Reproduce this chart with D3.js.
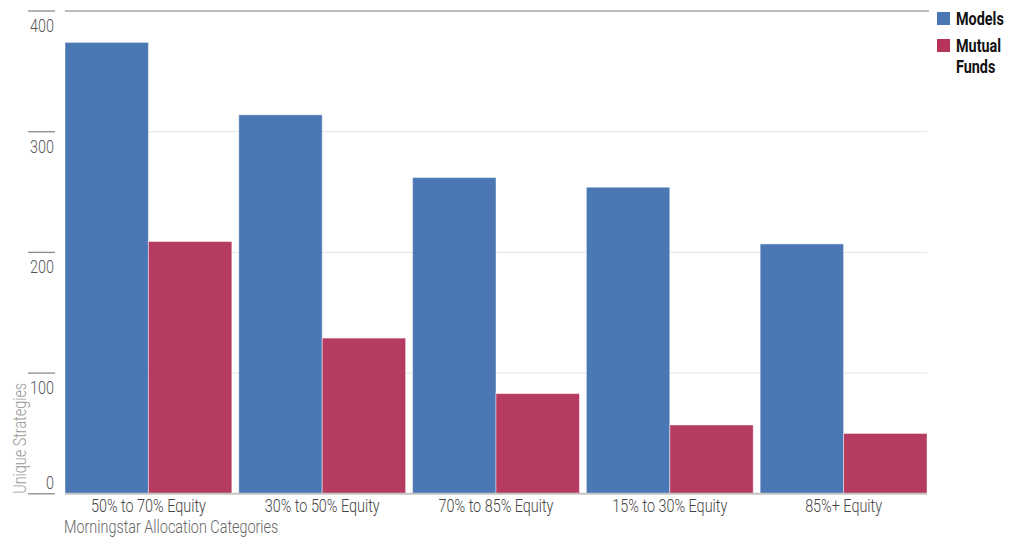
<!DOCTYPE html>
<html>
<head>
<meta charset="utf-8">
<script src="https://cdn.jsdelivr.net/npm/d3@7"></script>
<style>
  html, body { margin: 0; padding: 0; background: #fff; }
  svg { display: block; font-family: Roboto, "Liberation Sans", sans-serif; }
</style>
</head>
<body>
<svg id="chart" width="1019" height="537"></svg>
<script>
// Unique strategies by Morningstar allocation category
const categories = ["50% to 70% Equity", "30% to 50% Equity", "70% to 85% Equity", "15% to 30% Equity", "85%+ Equity"];
const seriesNames = ["Models", "Mutual Funds"];
const models = [374, 314, 262, 254, 207];
const mutualFunds = [209, 129, 83, 57, 50];
const yTicks = [0, 100, 200, 300, 400];
const colors = ["#3c6caf", "#b02a52"];
const legendColors = ["#4a77b4", "#b6345a"];

const svg = d3.select("#chart");
const plotLeft = 65, plotRight = 927, plotTop = 11, plotBottom = 493.8;
const narrow = 0.8;   // horizontal squeeze for a condensed look
const fs = 18;

// place a text at (x, y) with a condensed horizontal scale
function place(sel, x, y, extra = "") {
  return sel.attr("x", 0).attr("y", 0)
    .attr("transform", `translate(${x},${y}) ${extra} scale(${narrow},1)`);
}

const x = d3.scaleBand().domain(categories).range([plotLeft, plotRight]).paddingInner(0.04).paddingOuter(0);
const xs = d3.scaleBand().domain(seriesNames).range([0, x.bandwidth()]);
const y = d3.scaleLinear().domain([0, 400]).range([plotBottom, plotTop]);

// light gridlines
svg.append("g").selectAll("line").data(yTicks.filter(t => t > 0 && t < 400)).join("line")
  .attr("x1", plotLeft).attr("x2", plotRight)
  .attr("y1", d => y(d)).attr("y2", d => y(d))
  .attr("stroke", "#e3e3e3").attr("stroke-width", 1);

// top rule
svg.append("line").attr("x1", plotLeft).attr("x2", plotRight + 2)
  .attr("y1", y(400)).attr("y2", y(400))
  .attr("stroke", "#a6a6a6").attr("stroke-width", 1.3);

// bars
const rows = categories.map((c, i) => ({ cat: c, vals: [models[i], mutualFunds[i]] }));
const groups = svg.append("g").selectAll("g").data(rows).join("g")
  .attr("transform", d => `translate(${x(d.cat)},0)`);
groups.selectAll("rect").data(d => d.vals.map((v, j) => ({ v, s: seriesNames[j], j }))).join("rect")
  .attr("x", d => xs(d.s))
  .attr("width", xs.bandwidth())
  .attr("y", d => y(d.v))
  .attr("height", d => y(0) - y(d.v))
  .attr("fill", d => colors[d.j])
  .attr("fill-opacity", 0.92)
  .attr("stroke", "rgba(255,255,255,0.45)")
  .attr("stroke-width", 1);

// baseline
svg.append("line").attr("x1", plotLeft).attr("x2", plotRight)
  .attr("y1", plotBottom).attr("y2", plotBottom)
  .attr("stroke", "#c4c4c4").attr("stroke-width", 2);

// y axis: short rules with labels underneath
const yAxis = svg.append("g");
yAxis.selectAll("line").data(yTicks).join("line")
  .attr("x1", 28).attr("x2", 55)
  .attr("y1", d => y(d)).attr("y2", d => y(d))
  .attr("stroke", "#8a8a8a").attr("stroke-width", 1.3);
yAxis.selectAll("text").data(yTicks).join("text")
  .attr("text-anchor", "end")
  .attr("font-size", fs).attr("font-weight", 300).attr("fill", "#555")
  .text(d => d)
  .each(function (d) { place(d3.select(this), 54, d === 0 ? y(d) - 5 : y(d) + 21); });

// y title
place(svg.append("text"), 26, plotBottom, "rotate(-90)")
  .attr("font-size", fs).attr("font-weight", 300).attr("fill", "#999")
  .text("Unique Strategies");

// x axis labels
const xAxis = d3.axisBottom(x).tickSize(0).tickPadding(0);
const xg = svg.append("g").attr("transform", `translate(0,${plotBottom})`).call(xAxis);
xg.select(".domain").remove();
xg.selectAll("text").attr("dy", null)
  .attr("font-size", fs).attr("font-weight", 300).attr("fill", "#444")
  .attr("font-family", "Roboto, Liberation Sans, sans-serif")
  .each(function () { place(d3.select(this), 0, 18); });

place(svg.append("text"), plotLeft - 1, 533)
  .attr("font-size", fs).attr("font-weight", 300).attr("fill", "#666")
  .text("Morningstar Allocation Categories");

// legend
const legend = svg.append("g").attr("transform", "translate(937,12)");
const legendRows = [["Models"], ["Mutual", "Funds"]];
legendRows.forEach((lines, i) => {
  const g = legend.append("g").attr("transform", `translate(0,${i * 27})`);
  g.append("rect").attr("width", 13).attr("height", 13).attr("fill", legendColors[i]);
  lines.forEach((t, k) => {
    place(g.append("text"), 19, 13 + k * 21)
      .attr("font-size", fs).attr("font-weight", "bold").attr("fill", "#111")
      .text(t);
  });
});
</script>
</body>
</html>
